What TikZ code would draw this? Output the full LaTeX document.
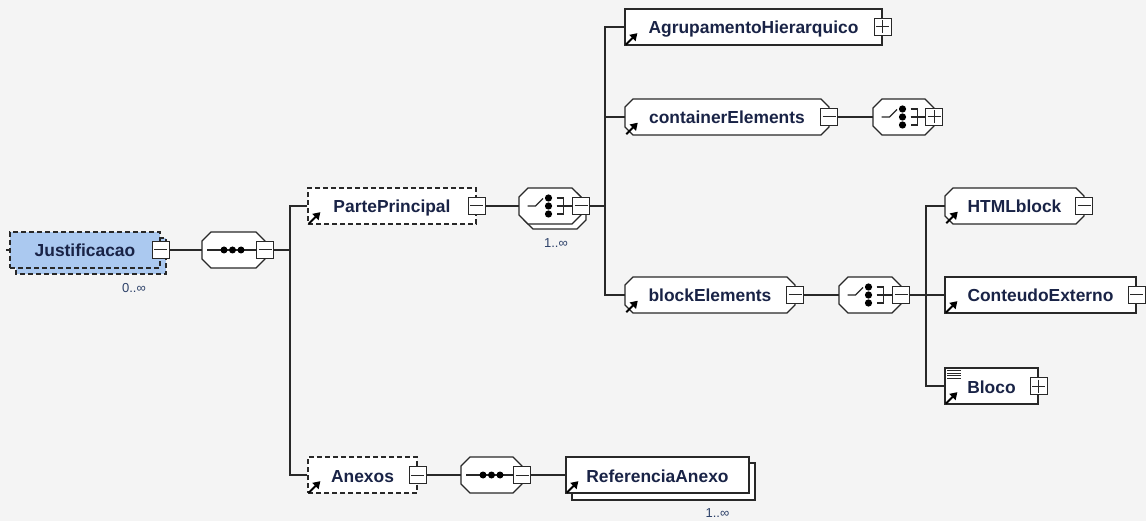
\documentclass[tikz,border=0pt]{standalone}
\usepackage{fontspec}
\setmainfont{Liberation Sans}
\usetikzlibrary{arrows.meta}
\definecolor{bg}{RGB}{244,244,244}
\definecolor{ln}{RGB}{40,40,40}
\definecolor{txt}{RGB}{25,35,70}
\definecolor{lbl}{RGB}{45,65,105}
\definecolor{jblue}{RGB}{171,201,240}
\newcommand\octshape[6][]{\draw[shp,#1] (#2+#6,#3) -- (#4-#6,#3) -- (#4,#3+#6) -- (#4,#5-#6) -- (#4-#6,#5) -- (#2+#6,#5) -- (#2,#5-#6) -- (#2,#3+#6) -- cycle;}
\newcommand\choiceicon[2]{%
  \draw[ln, line width=1.3pt] (#1+8.5,#2) -- (#1+16.5,#2) -- (#1+24,#2-7.5);
  \foreach \dy in {-8,0,8} \fill[black] (#1+29.5,#2+\dy) circle (3.6pt);
  \draw[ln, line width=1.3pt] (#1+37.5,#2-8) -- (#1+44.5,#2-8) -- (#1+44.5,#2+8) -- (#1+37.5,#2+8);
  \draw[ln, line width=1.3pt] (#1+37.5,#2) -- (#1+54,#2);}
\newcommand\seqicon[2]{%
  \draw[ln, line width=1.3pt] (#1+5,#2) -- (#1+55,#2);
  \foreach \dx in {22,30.5,39} \fill[black] (#1+\dx,#2) circle (3.5pt);}
\tikzset{
  conn/.style={draw=ln, line width=1.4pt},
  shp/.style={draw=ln, line width=1.3pt, fill=white},
  elem/.style={font=\fontsize{17.4}{20}\selectfont\bfseries, text=txt, inner sep=0pt,
    minimum height=36pt, text height=14pt, text depth=0pt},
  rbox/.style={elem, shp},
  dbox/.style={elem, shp, dash pattern=on 5pt off 3pt},
  ghost/.style={elem, draw=none, fill=none},
  btn/.style={draw=ln, line width=1.1pt, fill=white, minimum size=17pt, inner sep=0pt},
  bminus/.style={btn, path picture={\draw[ln, line width=1pt]
    ([xshift=2pt]path picture bounding box.west) -- ([xshift=-2pt]path picture bounding box.east);}},
  bplus/.style={btn, path picture={\draw[ln, line width=1pt]
    ([xshift=2pt]path picture bounding box.west) -- ([xshift=-2pt]path picture bounding box.east)
    ([yshift=-2pt]path picture bounding box.north) -- ([yshift=2pt]path picture bounding box.south);}},
  linkarr/.style={draw=black, line width=2.1pt, -{Triangle[length=7pt,width=8.5pt]}},
  card/.style={font=\fontsize{13}{15}\selectfont, text=lbl, inner sep=0pt},
}
\begin{document}
\begin{tikzpicture}[x=1pt,y=-1pt]
\fill[bg] (0,0) rectangle (1146,521);
\useasboundingbox (0,0) rectangle (1146,521);

% ---- Justificacao
\draw[shp, fill=jblue, dash pattern=on 5pt off 3pt] (16,238) rectangle (166,274);
\node[dbox, fill=jblue, minimum width=150pt] (just) at (85,250) {Justificacao};
\node[card] (jcard) at (134,288) {0..∞};

% ---- sequence 1
\octshape{202}{232}{265}{268}{9}
\node[ghost, minimum width=63pt] (seq1) at (233.5,250) {};
\seqicon{202}{250}

% ---- PartePrincipal
\node[dbox, minimum width=168pt] (pp) at (392,206) {PartePrincipal};

% ---- choice 1 (1..inf)
\octshape{524}{193}{586}{229}{9}
\octshape{519}{188}{581}{224}{9}
\node[ghost, minimum width=62pt] (ch1) at (550,206) {};
\choiceicon{519}{206}
\node[card] (c1card) at (556,243) {1..∞};

% ---- Agrupamento
\node[rbox, minimum width=257pt] (ag) at (753.5,27) {AgrupamentoHierarquico};

% ---- containerElements
\octshape{625}{99}{829}{135}{8}
\node[ghost, minimum width=204pt] (ce) at (727,117) {containerElements};
\octshape{873}{99}{934}{135}{9}
\node[ghost, minimum width=61pt] (ch2) at (903.5,117) {};
\choiceicon{873}{117}

% ---- blockElements
\octshape{625}{277}{795}{313}{8}
\node[ghost, minimum width=170pt] (be) at (710,295) {blockElements};
\octshape{839}{277}{901}{313}{9}
\node[ghost, minimum width=62pt] (ch3) at (870,295) {};
\choiceicon{839}{295}

% ---- HTMLblock, ConteudoExterno, Bloco
\octshape{945}{188}{1084}{224}{8}
\node[ghost, minimum width=139pt] (html) at (1014.5,206) {HTMLblock};
\node[rbox, minimum width=191pt] (ceo) at (1040.5,295) {ConteudoExterno};
\node[rbox, minimum width=93pt] (bloco) at (991.5,386) {Bloco};
\foreach \yy in {370.5,373,375.5,378} \draw[ln, line width=0.8pt] (947,\yy) -- (961,\yy);

% ---- Anexos
\node[dbox, minimum width=109pt] (anx) at (362.5,475) {Anexos};
\octshape{461}{457}{522}{493}{9}
\node[ghost, minimum width=61pt] (seq2) at (491.5,475) {};
\seqicon{461}{475}

% ---- ReferenciaAnexo
\draw[shp] (572,463) rectangle (755,500);
\node[rbox, minimum width=183pt] (ref) at (657.5,475) {ReferenciaAnexo};
\node[card] (rcard) at (717.5,513) {1..∞};

% ---- link arrows
\foreach \n in {pp,ag,ce,be,html,ceo,bloco,anx,ref}
  \draw[linkarr] ([shift={(1.5,-1)}]\n.south west) -- ++(11.5,-11.5);

% ---- connectors
\coordinate (jstub) at (6,250);
\coordinate (t1) at (290,250);
\coordinate (t2) at (605,206);
\coordinate (t3) at (926,295);
\draw[conn] (jstub) -- (just.west);
\draw[conn] (just.east) -- (seq1.west);
\draw[conn] (seq1.east) -- (t1);
\draw[conn] (pp.west) -| (t1) |- (anx.west);
\draw[conn] (pp.east) -- (ch1.west);
\draw[conn] (ch1.east) -- (t2);
\draw[conn] (ag.west) -| (t2) |- (be.west);
\draw[conn] (ce.west) -- (t2 |- ce.west);
\draw[conn] (ce.east) -- (ch2.west);
\draw[conn] (be.east) -- (ch3.west);
\draw[conn] (ch3.east) -- (t3);
\draw[conn] (html.west) -| (t3) |- (bloco.west);
\draw[conn] (t3) -- (ceo.west);
\draw[conn] (anx.east) -- (seq2.west);
\draw[conn] (seq2.east) -- (ref.west);

% ---- buttons
\node[bminus] (bjust) at (just.east) {};
\node[bminus] (bseq1) at (seq1.east) {};
\node[bminus] (bpp) at (pp.east) {};
\node[bminus] (bch1) at (ch1.east) {};
\node[bplus] (bag) at (ag.east) {};
\node[bminus] (bce) at (ce.east) {};
\node[bplus] (bch2) at (ch2.east) {};
\node[bminus] (bbe) at (be.east) {};
\node[bminus] (bch3) at (ch3.east) {};
\node[bminus] (bhtml) at (html.east) {};
\node[bminus] (bceo) at (ceo.east) {};
\node[bplus] (bbloco) at (bloco.east) {};
\node[bminus] (banx) at (anx.east) {};
\node[bminus] (bseq2) at (seq2.east) {};
\end{tikzpicture}
\end{document}
